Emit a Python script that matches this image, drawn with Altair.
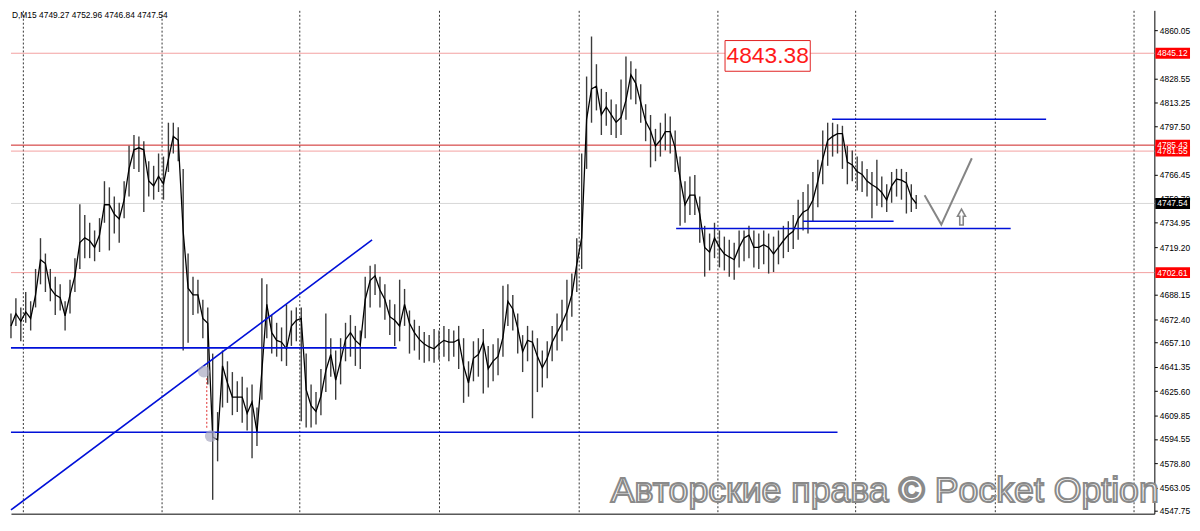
import altair as alt
import pandas as pd

# ---------------- data ----------------
close = [4667.9, 4675.9, 4671.0, 4677.1, 4672.8, 4688.2, 4711.0, 4708.5, 4692.5, 4688.2,
         4686.4, 4674.6, 4688.2, 4700.5, 4722.1, 4725.2, 4723.3, 4719.0, 4727.0, 4746.7,
         4746.7, 4740.6, 4737.5, 4749.8, 4770.1, 4782.4, 4783.7, 4782.4, 4762.1, 4759.0,
         4765.2, 4760.3, 4776.3, 4791.1, 4788.6, 4729.5, 4692.5, 4688.2, 4688.2, 4672.8,
         4669.7, 4595.8, 4594.0, 4642.0, 4630.9, 4621.7, 4621.7, 4621.7, 4611.2, 4618.6,
         4598.9, 4638.9, 4682.0, 4663.6, 4658.6, 4657.4, 4653.1, 4667.9, 4671.6, 4672.8,
         4626.6, 4616.1, 4612.4, 4622.3, 4638.9, 4649.4, 4632.8, 4645.1, 4659.2, 4663.6,
         4658.6, 4655.6, 4685.1, 4697.4, 4700.5, 4691.3, 4685.1, 4674.0, 4671.6, 4667.9,
         4682.0, 4669.7, 4663.6, 4659.2, 4656.2, 4654.3, 4653.1, 4656.2, 4658.6, 4657.4,
         4657.4, 4659.2, 4642.0, 4630.9, 4646.9, 4649.4, 4657.4, 4640.2, 4645.1, 4648.2,
         4660.5, 4683.9, 4679.0, 4666.6, 4651.2, 4658.6, 4657.4, 4648.2, 4640.8, 4646.9,
         4657.4, 4663.6, 4669.7, 4677.1, 4688.2, 4707.9, 4725.2, 4802.2, 4821.9, 4823.7,
         4805.2, 4810.2, 4805.2, 4800.3, 4803.4, 4814.5, 4831.1, 4825.6, 4813.2, 4800.9,
         4794.8, 4784.9, 4788.6, 4794.2, 4794.2, 4783.7, 4764.0, 4746.7, 4752.9, 4752.9,
         4740.6, 4719.0, 4715.9, 4725.2, 4719.0, 4714.7, 4712.8, 4711.0, 4719.0, 4725.2,
         4727.0, 4719.0, 4719.0, 4720.8, 4719.0, 4714.7, 4719.0, 4723.3, 4727.0, 4729.5,
         4737.5, 4741.8, 4743.6, 4749.8, 4762.1, 4776.3, 4788.6, 4791.1, 4792.9, 4792.9,
         4774.4, 4772.6, 4768.3, 4766.4, 4762.1, 4759.7, 4757.8, 4754.7, 4749.8, 4759.0,
         4763.4, 4762.7, 4760.9, 4751.6, 4747.5]

high = [4676, 4686, 4680, 4690, 4684, 4705, 4725, 4715, 4705, 4700,
        4695, 4684, 4698, 4712, 4747, 4740, 4735, 4730, 4738, 4762,
        4758, 4752, 4748, 4762, 4785, 4792, 4791, 4788, 4775, 4772,
        4780, 4778, 4800, 4800, 4797, 4770, 4715, 4700, 4698, 4685,
        4680, 4650, 4612, 4652, 4645, 4638, 4632, 4635, 4628, 4630,
        4615, 4699, 4695, 4675, 4670, 4667, 4682, 4678, 4680, 4680,
        4650, 4630, 4625, 4640, 4676, 4660, 4652, 4660, 4670, 4675,
        4668, 4665, 4700, 4707, 4708, 4700, 4695, 4685, 4682, 4698,
        4692, 4678, 4672, 4668, 4664, 4662, 4666, 4665, 4668, 4666,
        4665, 4668, 4660, 4645, 4658, 4660, 4666, 4655, 4656, 4660,
        4694, 4695, 4688, 4676, 4662, 4668, 4665, 4660, 4652, 4658,
        4668, 4676, 4685, 4698, 4702, 4725, 4780, 4830, 4856, 4838,
        4822, 4820, 4815, 4812, 4828, 4843, 4840, 4835, 4825, 4812,
        4805, 4796, 4800, 4806, 4804, 4795, 4778, 4762, 4765, 4766,
        4752, 4733, 4728, 4735, 4730, 4726, 4724, 4722, 4730, 4730,
        4733, 4730, 4728, 4730, 4728, 4726, 4730, 4733, 4736, 4740,
        4750, 4755, 4760, 4768, 4776, 4795, 4800, 4800, 4799, 4798,
        4785, 4782, 4778, 4775, 4770, 4768, 4776, 4765, 4760, 4768,
        4770, 4770, 4768, 4760, 4753]

low = [4660, 4668, 4658, 4670, 4665, 4680, 4695, 4690, 4684, 4675,
       4678, 4665, 4676, 4690, 4705, 4712, 4712, 4710, 4716, 4735,
       4717, 4728, 4722, 4738, 4752, 4770, 4768, 4742, 4752, 4750,
       4755, 4750, 4768, 4780, 4775, 4652, 4657, 4675, 4676, 4660,
       4630, 4555, 4580, 4615, 4618, 4610, 4612, 4605, 4600, 4582,
       4590, 4620, 4660, 4650, 4648, 4645, 4642, 4655, 4658, 4606,
       4602, 4602, 4604, 4610, 4625, 4635, 4620, 4630, 4645, 4648,
       4642, 4640, 4660, 4680, 4688, 4680, 4672, 4662, 4655, 4658,
       4668, 4650, 4652, 4646, 4644, 4645, 4644, 4646, 4648, 4645,
       4648, 4640, 4618, 4622, 4632, 4635, 4624, 4628, 4632, 4636,
       4648, 4668, 4665, 4650, 4638, 4645, 4608, 4625, 4628, 4634,
       4645, 4652, 4658, 4665, 4674, 4690, 4705, 4770, 4800, 4808,
       4792, 4798, 4792, 4790, 4792, 4802, 4815, 4812, 4800, 4788,
       4771, 4775, 4778, 4782, 4780, 4768, 4733, 4735, 4740, 4740,
       4722, 4700, 4704, 4712, 4706, 4704, 4700, 4698, 4706, 4710,
       4712, 4706, 4705, 4708, 4702, 4703, 4708, 4712, 4716, 4718,
       4724, 4730, 4728, 4736, 4745, 4760, 4772, 4778, 4780, 4770,
       4760, 4762, 4756, 4755, 4752, 4738, 4746, 4745, 4742, 4748,
       4752, 4750, 4741, 4742, 4744]

y_ticks = [4860.05, 4828.55, 4813.25, 4797.50, 4766.45, 4750.70, 4734.95, 4719.20,
           4688.15, 4672.40, 4657.10, 4641.35, 4625.60, 4609.85, 4594.55, 4578.80,
           4563.05, 4547.75]
grid_x = [2.34, 30.54, 58.66, 87.0, 115.34, 143.54, 171.66, 200.0, 228.2]

level_prices = [4747.54, 4845.12, 4781.55, 4785.43, 4702.61]
level_colors = ["#d8d8d8", "#f3a0a0", "#f3a0a0", "#cc1f1f", "#f3a0a0"]
level_labels = ["4747.54", "4845.12", "4781.55", "4785.43", "4702.61"]
label_fills = ["#000000", "#ff0000", "#ff0000", "#ff0000", "#ff0000"]

seg_x0 = [0.0, 0.0, 135.2, 161.0, 166.9, 0.0]
seg_x1 = [78.4, 168.0, 203.2, 179.4, 210.4, 73.4]
seg_p0 = [4653.7, 4598.9, 4731.3, 4736.0, 4802.2, 4548.4]
seg_p1 = [4653.7, 4598.9, 4731.3, 4736.0, 4802.2, 4723.9]

proj_bar = [185.7, 189.1, 195.3]
proj_price = [4752.9, 4733.8, 4776.9]

arrow_bar = [193.2]
arrow_price = [4738.7]

marker_bar = [39.2, 40.6]
marker_price = [4638.3, 4596.4]
dotted_bar = [39.8]
dotted_p0 = [4634.0]
dotted_p1 = [4600.7]

note_bar = [153.8]
note_price = [4843.4]
note_text = ["4843.38"]

header = "D,M15  4749.27 4752.96 4746.84 4747.54"
watermark = "Авторские права © Pocket Option"
wm_bar = [177.6]
wm_price = [4553.5]

# ---------------- chart ----------------
W, H = 1154, 508
FONT = "Liberation Sans"

xs = alt.Scale(domain=[0, 232.4], nice=False, zero=False)
ys = alt.Scale(domain=[4546, 4873], nice=False, zero=False)
x_axis = alt.Axis(values=grid_x, labels=False, ticks=False, domain=True,
                  domainColor="black", grid=True, gridDash=[2, 2],
                  gridColor="#333333", gridOpacity=1, gridWidth=1, title=None)
y_axis = alt.Axis(orient="right", values=y_ticks, format=".2f", labelFont=FONT,
                  labelFontSize=8.5, labelColor="black", tickSize=3, tickColor="black",
                  domainColor="black", grid=False, labelPadding=2, title=None,
                  labelOverlap=False)


def X(f):
    return alt.X(f, scale=xs, axis=x_axis, title=None)


def Y(f):
    return alt.Y(f, scale=ys, axis=y_axis, title=None)


df = pd.DataFrame({"bar": list(range(len(close))), "close": close, "high": high, "low": low})
lv = pd.DataFrame({"price": level_prices, "col": level_colors, "label": level_labels,
                   "fill": label_fills})
segs = pd.DataFrame({"x0": seg_x0, "x1": seg_x1, "p0": seg_p0, "p1": seg_p1})
proj = pd.DataFrame({"bar": proj_bar, "price": proj_price, "o": [0, 1, 2]})
arrow = pd.DataFrame({"bar": arrow_bar, "price": arrow_price})
markers = pd.DataFrame({"bar": marker_bar, "price": marker_price})
dotted = pd.DataFrame({"bar": dotted_bar, "p0": dotted_p0, "p1": dotted_p1})
note = pd.DataFrame({"bar": note_bar, "price": note_price, "t": note_text})
wm = pd.DataFrame({"bar": wm_bar, "price": wm_price, "t": [watermark]})

levels = alt.Chart(lv).mark_rule(strokeWidth=1).encode(
    y=Y("price:Q"), color=alt.Color("col:N", scale=None))

wicks = alt.Chart(df).mark_rule(color="#3a3a3a", strokeWidth=1.4).encode(
    x=X("bar:Q"), y=Y("low:Q"), y2="high:Q")

line = alt.Chart(df).mark_line(color="black", strokeWidth=1.3).encode(
    x=X("bar:Q"), y=Y("close:Q"))

blue = alt.Chart(segs).mark_rule(color="#0010d8", strokeWidth=1.6).encode(
    x=X("x0:Q"), x2="x1:Q", y=Y("p0:Q"), y2="p1:Q")

vshape = alt.Chart(proj).mark_line(color="#858585", strokeWidth=2).encode(
    x=X("bar:Q"), y=Y("price:Q"), order="o:Q")

arrow_path = "M0,-1L0.5,-0.1L0.22,-0.1L0.22,1L-0.22,1L-0.22,-0.1L-0.5,-0.1Z"
up = alt.Chart(arrow).mark_point(shape=arrow_path, size=256, filled=False,
                                 color="#858585", strokeWidth=1.6, opacity=1).encode(
    x=X("bar:Q"), y=Y("price:Q"))

circ = alt.Chart(markers).mark_point(shape="circle", filled=True, size=140,
                                     color="#a9a9c2", opacity=0.7).encode(
    x=X("bar:Q"), y=Y("price:Q"))

dot = alt.Chart(dotted).mark_rule(color="#e03030", strokeDash=[2, 2], strokeWidth=1).encode(
    x=X("bar:Q"), y=Y("p0:Q"), y2="p1:Q")

note_box = alt.Chart(note).mark_tick(orient="horizontal", size=86, thickness=31,
                                     color="white", stroke="#e02020", strokeWidth=1,
                                     opacity=1).encode(x=X("bar:Q"), y=Y("price:Q"))
note_txt = alt.Chart(note).mark_text(fontSize=23, font=FONT, color="#ff1a1a",
                                     baseline="middle", align="center").encode(
    x=X("bar:Q"), y=Y("price:Q"), text="t:N")

lab_box = alt.Chart(lv).mark_tick(orient="horizontal", size=35, thickness=11,
                                  opacity=1).encode(
    x=alt.value(W + 18.5), y=Y("price:Q"), color=alt.Color("fill:N", scale=None))
lab_txt = alt.Chart(lv).mark_text(align="left", baseline="middle", fontSize=8.5,
                                  font=FONT, color="white").encode(
    x=alt.value(W + 3), y=Y("price:Q"), text="label:N")

wm_txt = alt.Chart(wm).mark_text(fontSize=36, font=FONT, fill="white", stroke="#8a8a8a",
                                 strokeWidth=2, align="center",
                                 baseline="alphabetic").encode(
    x=X("bar:Q"), y=Y("price:Q"), text="t:N")

head = alt.Chart(wm).mark_text(align="left", baseline="top", fontSize=8.5, font=FONT,
                               color="black", text=header).encode(
    x=alt.value(1), y=alt.value(1))

chart = alt.layer(levels, wicks, line, blue, vshape, up, circ, dot, note_box, note_txt,
                  lab_box, lab_txt, wm_txt, head).properties(
    width=W, height=H, padding={"left": 0, "top": 0, "right": 2, "bottom": 0},
    background="white").configure_view(stroke=None)

chart.save("out.html", embed_options={"renderer": "svg", "actions": False})
